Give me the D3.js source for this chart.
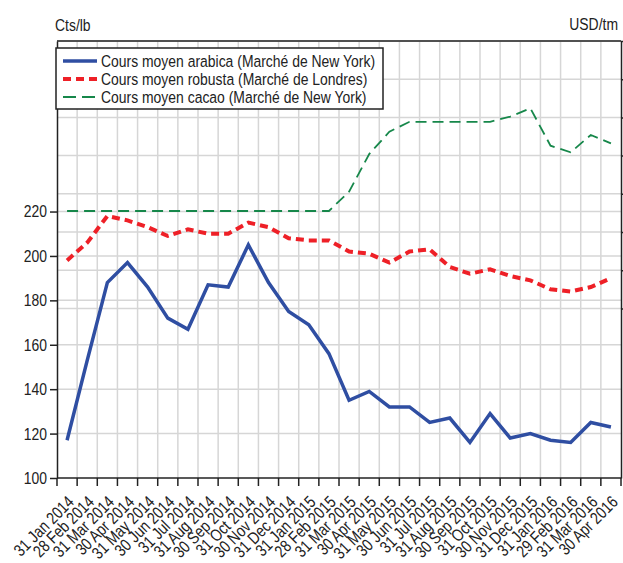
<!DOCTYPE html>
<html lang="fr">
<head>
<meta charset="UTF-8">
<title>Cours moyens</title>
<style>
body { margin: 0; background: #fff; }
svg text { font-family: "Liberation Sans Narrow", "Arial Narrow", "Liberation Sans", sans-serif; fill: #222; }
.grid line { stroke: #d6d6d6; stroke-width: 1.5; }
.axis path, .axis line { stroke: #222; stroke-width: 1.5; }
</style>
</head>
<body>
<script src="https://cdn.jsdelivr.net/npm/d3@7"></script>
<script>
// data
var months = ["31 Jan 2014","28 Feb 2014","31 Mar 2014","30 Apr 2014","31 May 2014","30 Jun 2014",
  "31 Jul 2014","31 Aug 2014","30 Sep 2014","31 Oct 2014","30 Nov 2014","31 Dec 2014",
  "31 Jan 2015","28 Feb 2015","31 Mar 2015","30 Apr 2015","31 May 2015","30 Jun 2015",
  "31 Jul 2015","31 Aug 2015","30 Sep 2015","31 Oct 2015","30 Nov 2015","31 Dec 2015",
  "31 Jan 2016","29 Feb 2016","31 Mar 2016","30 Apr 2016"];
var arabica = [117,153,188,197,186,172,167,187,186,205,188,175,169,156,135,139,132,132,125,127,116,129,118,120,117,116,125,123];
var robusta = [198,206,218,216,213,209,212,210,210,215,213,208,207,207,202,201,197,202,203,195,192,194,191,189,185,184,186,190];
var cacao = [2510,2510,2510,2510,2510,2510,2510,2510,2510,2510,2510,2510,2510,2510,2611,2808,2925,2977,2977,2977,2977,2977,3004,3048,2852,2817,2908,2864];
var leftTicks = [100,120,140,160,180,200,220];
var rightTicks = [2000,2200,2400,2600,2800,3000,3200,3400];
var seriesNames = ["Cours moyen arabica (Marché de New York)","Cours moyen robusta (Marché de Londres)","Cours moyen cacao (Marché de New York)"];

var W = 623, H = 563;
var x0 = 57, x1 = 621, yTop = 41, yBot = 478;
var SX = 0.82; // horizontal squeeze to imitate a narrow font

var svg = d3.select('body').append('svg').attr('width', W).attr('height', H);

var x = d3.scaleBand().domain(months).range([x0, x1]);
var yL = d3.scaleLinear().domain([100, 296.8]).range([yBot, yTop]);
var yR = d3.scaleLinear().domain([1112, 3400]).range([yBot, yTop]);

function narrowText(parent, tx, ty, str, anchor, extra) {
  return parent.append('text')
    .attr('transform', 'translate(' + tx + ',' + ty + ')' + (extra || '') + ' scale(' + SX + ',1)')
    .attr('text-anchor', anchor || 'start').attr('font-size', 17).text(str);
}

// grid
var grid = svg.append('g').attr('class', 'grid');
grid.selectAll('.v').data(months.slice(1)).enter().append('line')
  .attr('x1', d => x(d)).attr('x2', d => x(d)).attr('y1', yTop).attr('y2', yBot);
grid.selectAll('.hl').data(leftTicks.slice(1)).enter().append('line')
  .attr('x1', x0).attr('x2', x1).attr('y1', d => yL(d)).attr('y2', d => yL(d));
grid.selectAll('.hr').data(rightTicks).enter().append('line')
  .attr('x1', x0).attr('x2', x1).attr('y1', d => yR(d)).attr('y2', d => yR(d));

// series
var cx = d => x(d) + x.bandwidth() / 2;
var lineL = d3.line().x((d, i) => cx(months[i])).y(d => yL(d));
var lineR = d3.line().x((d, i) => cx(months[i])).y(d => yR(d));

svg.append('path').attr('d', lineR(cacao)).attr('fill', 'none')
  .attr('stroke', '#16874a').attr('stroke-width', 1.8).attr('stroke-dasharray', '11,6');
svg.append('path').attr('d', lineL(robusta)).attr('fill', 'none')
  .attr('stroke', '#ee2027').attr('stroke-width', 4).attr('stroke-dasharray', '8,5');
svg.append('path').attr('d', lineL(arabica)).attr('fill', 'none')
  .attr('stroke', '#2f4ea2').attr('stroke-width', 3.5);

// frame
svg.append('line').attr('x1', x0).attr('x2', x1).attr('y1', yTop).attr('y2', yTop)
  .attr('stroke', '#222').attr('stroke-width', 1.5);

// axes
svg.append('g').attr('class', 'axis').attr('transform', 'translate(' + x0 + ',0)')
  .call(d3.axisLeft(yL).tickValues(leftTicks).tickSize(7).tickSizeOuter(0))
  .call(g => g.selectAll('text').attr('font-size', 17).attr('x', 0)
    .attr('transform', 'translate(-10,0) scale(' + SX + ',1)'));
svg.append('g').attr('class', 'axis').attr('transform', 'translate(' + x1 + ',0)')
  .call(d3.axisRight(yR).tickValues(rightTicks).tickSize(7).tickSizeOuter(0).tickFormat(''));

var xg = svg.append('g').attr('class', 'axis').attr('transform', 'translate(0,' + yBot + ')');
xg.append('line').attr('x1', x0).attr('x2', x1).attr('y1', 0).attr('y2', 0);
xg.selectAll('.tk').data(months.concat(['end'])).enter().append('line')
  .attr('x1', (d, i) => x0 + i * x.step()).attr('x2', (d, i) => x0 + i * x.step())
  .attr('y1', 0).attr('y2', 8);
months.forEach(function (m) {
  narrowText(xg, cx(m) + 8, 25, m, 'end', ' rotate(-45)');
});

// unit labels
narrowText(svg, 55, 31, 'Cts/lb');
narrowText(svg, 618, 30, 'USD/tm', 'end');

// legend
var lg = svg.append('g');
lg.append('rect').attr('x', 56).attr('y', 48).attr('width', 327).attr('height', 61)
  .attr('fill', '#fff').attr('stroke', '#222').attr('stroke-width', 1.5);
var styles = [
  {c: '#2f4ea2', w: 3.5, dash: null},
  {c: '#ee2027', w: 4, dash: '8,5'},
  {c: '#16874a', w: 1.8, dash: '13,6'}
];
seriesNames.forEach(function (name, i) {
  var yy = 61 + i * 18;
  lg.append('line').attr('x1', 63).attr('x2', 97).attr('y1', yy).attr('y2', yy)
    .attr('stroke', styles[i].c).attr('stroke-width', styles[i].w)
    .attr('stroke-dasharray', styles[i].dash);
  narrowText(lg, 101, yy + 6, name);
});
</script>
</body>
</html>
